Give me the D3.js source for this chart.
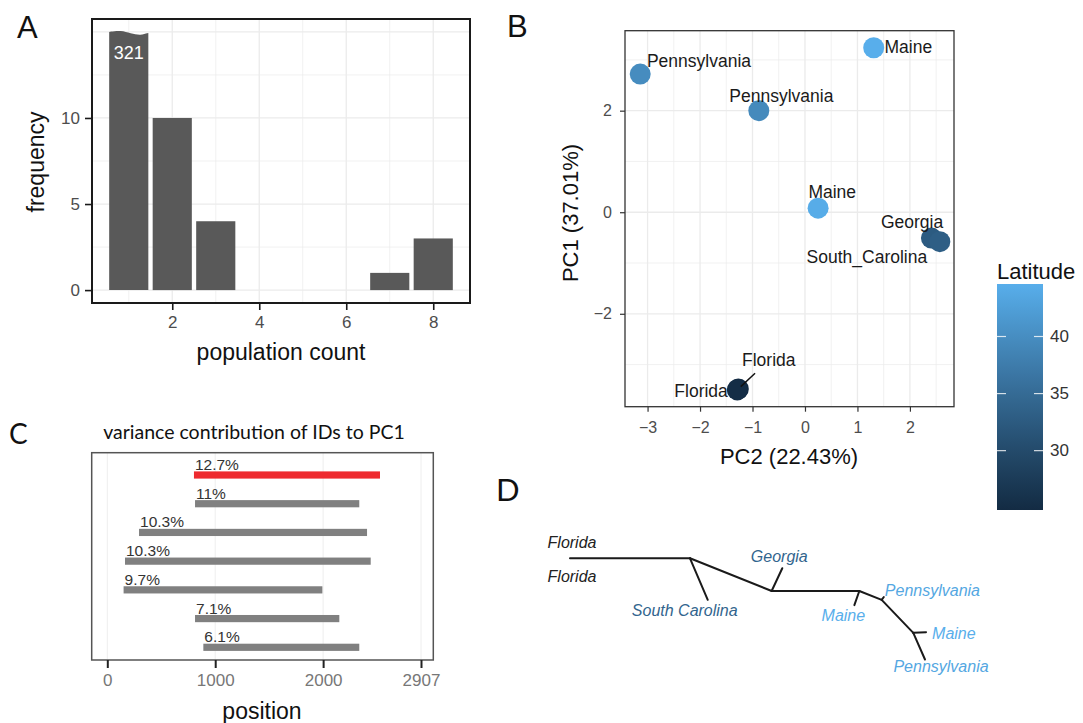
<!DOCTYPE html>
<html>
<head>
<meta charset="utf-8">
<script src="https://cdn.jsdelivr.net/npm/d3@7"></script>
<style>
  body { margin: 0; background: #fff; }
  svg { display: block; font-family: "Liberation Sans", Arial, sans-serif; }
</style>
</head>
<body>
<div id="container"></div>
<script>
/* DATA */
// A: histogram of population counts (first bar cut at 15, real value 321)
const popCount = [1, 2, 3, 7, 8];
const popFreq = [321, 10, 4, 1, 3];
const freqBreak = 15;
const freqTicks = [0, 5, 10];
const countTicks = [2, 4, 6, 8];

// B: PCA of samples, coloured by latitude
const sampleState = ["Pennsylvania", "Maine", "Pennsylvania", "Maine", "Georgia", "South_Carolina", "Florida", "Florida"];
const pc2 = [-3.14, 1.31, -0.88, 0.25, 2.41, 2.57, -1.27, -1.29];
const pc1 = [2.72, 3.24, 2.00, 0.08, -0.51, -0.58, -3.48, -3.50];
const latitude = [39.8, 44.6, 39.5, 44.3, 32.6, 33.1, 24.8, 25.2];
// repelled label positions (data units)
const labelPc2 = [-2.02, 1.97, -0.45, 0.52, 2.04, 1.18, -0.69, -1.98];
const labelPc1 = [2.98, 3.26, 2.29, 0.39, -0.20, -0.89, -2.92, -3.53];
const labelSegment = [false, false, false, false, false, false, true, false];
const pcTicks2 = [-3, -2, -1, 0, 1, 2];
const pcTicks1 = [-2, 0, 2];
const latTicks = [30, 35, 40];

// C: variance contribution of IDs to PC1
const idShare = ["12.7%", "11%", "10.3%", "10.3%", "9.7%", "7.1%", "6.1%"];
const idStart = [803, 813, 294, 164, 151, 813, 890];
const idEnd = [2527, 2335, 2407, 2441, 1993, 2150, 2335];
const positionTicks = [0, 1000, 2000, 2907];

// D: unrooted tree (branch-length units)
const treeNodes = [
  { id: "fl", x: 0.000, y: 0.000 },
  { id: "n1", x: 0.338, y: 0.000 },
  { id: "sc", x: 0.388, y: 0.117 },
  { id: "n2", x: 0.568, y: 0.092 },
  { id: "ga", x: 0.598, y: 0.028 },
  { id: "n3", x: 0.815, y: 0.092 },
  { id: "me1", x: 0.801, y: 0.132 },
  { id: "n4", x: 0.878, y: 0.117 },
  { id: "pa1", x: 0.884, y: 0.109 },
  { id: "n5", x: 0.967, y: 0.210 },
  { id: "me2", x: 1.003, y: 0.208 },
  { id: "pa2", x: 1.000, y: 0.285 }
];
const treeEdges = [
  ["fl", "n1"], ["n1", "sc"], ["n1", "n2"], ["n2", "ga"], ["n2", "n3"],
  ["n3", "me1"], ["n3", "n4"], ["n4", "pa1"], ["n4", "n5"], ["n5", "me2"], ["n5", "pa2"]
];
const tipNode = ["fl", "fl", "ga", "sc", "me1", "pa1", "me2", "pa2"];
const tipLabel = ["Florida", "Florida", "Georgia", "South Carolina", "Maine", "Pennsylvania", "Maine", "Pennsylvania"];
const tipLat = [24.0, 24.0, 34.2, 34.2, 44.6, 43.6, 44.6, 43.6];

/* LAYOUT */
const W = 1083, H = 723;
const tipOffset = [[2, -16, "middle"], [2, 18, "middle"], [-3, -12, "middle"], [-23, 11, "middle"],
  [-11, 10, "middle"], [1, -6, "start"], [6, 1, "start"], [16, 7, "middle"]];

const svg = d3.select("#container").append("svg")
  .attr("width", W).attr("height", H);

const grey92 = "#ebebeb";
const latColor = d3.scaleLinear().domain([24.8, 44.6])
  .range(["#132B43", "#58aeeb"]).interpolate(d3.interpolateLab).clamp(true);

function letter(t, x, y, fam, size) {
  svg.append("text").attr("x", x).attr("y", y).text(t)
    .style("font-family", fam).style("font-size", size + "px").attr("fill", "#111");
}

/* PANEL A */
{
  const x = d3.scaleLinear().domain([0.155, 8.845]).range([92, 470]);
  const y = d3.scaleLinear().domain([-0.75, 15.75]).range([303, 19]);
  const g = svg.append("g");

  // grid
  g.selectAll("line.minx").data([1, 3, 5, 7]).join("line")
    .attr("x1", d => x(d)).attr("x2", d => x(d)).attr("y1", 19).attr("y2", 303)
    .attr("stroke", grey92).attr("stroke-width", 0.7);
  g.selectAll("line.miny").data([2.5, 7.5, 12.5]).join("line")
    .attr("y1", d => y(d)).attr("y2", d => y(d)).attr("x1", 92).attr("x2", 470)
    .attr("stroke", grey92).attr("stroke-width", 0.7);
  g.selectAll("line.majx").data(countTicks).join("line")
    .attr("x1", d => x(d)).attr("x2", d => x(d)).attr("y1", 19).attr("y2", 303)
    .attr("stroke", grey92).attr("stroke-width", 1.3);
  g.selectAll("line.majy").data([0, 5, 10, 15]).join("line")
    .attr("y1", d => y(d)).attr("y2", d => y(d)).attr("x1", 92).attr("x2", 470)
    .attr("stroke", grey92).attr("stroke-width", 1.3);

  const bars = popCount.map((c, i) => ({ c, f: popFreq[i] }));
  const bw = x(0.9) - x(0);
  // normal bars
  g.selectAll("rect.bar").data(bars.filter(d => d.f <= freqBreak)).join("rect")
    .attr("x", d => x(d.c - 0.45)).attr("width", bw)
    .attr("y", d => y(d.f)).attr("height", d => y(0) - y(d.f))
    .attr("fill", "#595959");
  // cut bar with wavy top
  const cut = bars.filter(d => d.f > freqBreak);
  g.selectAll("path.cut").data(cut).join("path")
    .attr("d", d => {
      const x0 = x(d.c - 0.45), x1 = x0 + bw, yt = y(freqBreak), yb = y(0);
      const wave = d3.line().curve(d3.curveBasis)([
        [x0, yt], [x0 + 0.3 * bw, yt - 1.8], [x0 + 0.55 * bw, yt + 1.5],
        [x0 + 0.8 * bw, yt + 3.5], [x1, yt + 1]]);
      return wave + `L${x1},${yb}L${x0},${yb}Z`;
    })
    .attr("fill", "#595959");
  g.selectAll("text.cut").data(cut).join("text")
    .attr("x", d => x(d.c)).attr("y", y(freqBreak) + 27)
    .attr("text-anchor", "middle").attr("fill", "#fff")
    .style("font-size", "18px").text(d => d.f);

  // frame
  g.append("rect").attr("x", 92).attr("y", 19).attr("width", 378).attr("height", 284)
    .attr("fill", "none").attr("stroke", "#1a1a1a").attr("stroke-width", 2);

  const ax = g.append("g").attr("transform", "translate(0,303)")
    .call(d3.axisBottom(x).tickValues(countTicks).tickSize(7).tickPadding(6));
  const ay = g.append("g").attr("transform", "translate(92,0)")
    .call(d3.axisLeft(y).tickValues(freqTicks).tickSize(7).tickPadding(5));
  [ax, ay].forEach(a => {
    a.select(".domain").remove();
    a.selectAll("line").attr("stroke", "#1a1a1a").attr("stroke-width", 1.6);
    a.selectAll("text").attr("fill", "#4d4d4d").style("font-size", "17px")
      .style("font-family", "Liberation Sans, Arial, sans-serif");
  });

  g.append("text").attr("x", 281).attr("y", 360).attr("text-anchor", "middle")
    .style("font-size", "23px").attr("fill", "#111").text("population count");
  g.append("text").attr("transform", "translate(44,162) rotate(-90)")
    .attr("text-anchor", "middle").style("font-size", "23px").attr("fill", "#111")
    .text("frequency");

  letter("A", 17, 38, "Liberation Sans, Arial", 31);
}

/* PANEL B */
{
  const L = 625, R = 954, T = 30.7, B = 406.7;
  const x = d3.scaleLinear().domain([-3.43, 2.84]).range([L, R]);
  const y = d3.scaleLinear().domain([-3.83, 3.575]).range([B, T]);
  const g = svg.append("g");

  g.selectAll("line.minx").data([-2.5, -1.5, -0.5, 0.5, 1.5, 2.5]).join("line")
    .attr("x1", d => x(d)).attr("x2", d => x(d)).attr("y1", T).attr("y2", B)
    .attr("stroke", grey92).attr("stroke-width", 0.7);
  g.selectAll("line.miny").data([-3, -1, 1, 3]).join("line")
    .attr("y1", d => y(d)).attr("y2", d => y(d)).attr("x1", L).attr("x2", R)
    .attr("stroke", grey92).attr("stroke-width", 0.7);
  g.selectAll("line.majx").data(pcTicks2).join("line")
    .attr("x1", d => x(d)).attr("x2", d => x(d)).attr("y1", T).attr("y2", B)
    .attr("stroke", grey92).attr("stroke-width", 1.3);
  g.selectAll("line.majy").data(pcTicks1).join("line")
    .attr("y1", d => y(d)).attr("y2", d => y(d)).attr("x1", L).attr("x2", R)
    .attr("stroke", grey92).attr("stroke-width", 1.3);

  const pts = sampleState.map((s, i) => ({
    s, x: pc2[i], y: pc1[i], lat: latitude[i], lx: labelPc2[i], ly: labelPc1[i], seg: labelSegment[i]
  }));

  g.selectAll("circle").data(pts).join("circle")
    .attr("cx", d => x(d.x)).attr("cy", d => y(d.y)).attr("r", 10.5)
    .attr("fill", d => latColor(d.lat));

  // ggrepel-style segment from point toward its label
  g.selectAll("line.seg").data(pts.filter(d => d.seg)).join("line")
    .attr("x1", d => x(d.x) + 0.08 * (x(d.lx) - x(d.x))).attr("y1", d => y(d.y) + 0.08 * (y(d.ly) - y(d.y)))
    .attr("x2", d => x(d.x) + 0.55 * (x(d.lx) - x(d.x)))
    .attr("y2", d => y(d.y) + 0.55 * (y(d.ly) - y(d.y)))
    .attr("stroke", "#111").attr("stroke-width", 1.5);

  g.selectAll("text.lab").data(pts).join("text")
    .attr("x", d => x(d.lx)).attr("y", d => y(d.ly))
    .attr("text-anchor", "middle").attr("dominant-baseline", "central")
    .style("font-size", "17.5px").attr("fill", "#1a1a1a").text(d => d.s);

  g.append("rect").attr("x", L).attr("y", T).attr("width", R - L).attr("height", B - T)
    .attr("fill", "none").attr("stroke", "#333").attr("stroke-width", 1.3);

  const fmt = d => d < 0 ? "\u2212" + Math.abs(d) : String(d);
  const ax = g.append("g").attr("transform", `translate(0,${B})`)
    .call(d3.axisBottom(x).tickValues(pcTicks2).tickFormat(fmt).tickSize(5).tickPadding(10));
  const ay = g.append("g").attr("transform", `translate(${L},0)`)
    .call(d3.axisLeft(y).tickValues(pcTicks1).tickFormat(fmt).tickSize(5).tickPadding(8));
  [ax, ay].forEach(a => {
    a.select(".domain").remove();
    a.selectAll("line").attr("stroke", "#333").attr("stroke-width", 1.2);
    a.selectAll("text").attr("fill", "#4d4d4d").style("font-size", "16px")
      .style("font-family", "Liberation Sans, Arial, sans-serif");
  });

  g.append("text").attr("x", 789).attr("y", 464).attr("text-anchor", "middle")
    .style("font-size", "22px").attr("fill", "#111").text("PC2 (22.43%)");
  g.append("text").attr("transform", "translate(578,213) rotate(-90)")
    .attr("text-anchor", "middle").style("font-size", "22px").attr("fill", "#111")
    .text("PC1 (37.01%)");

  // colour bar legend
  const ly = d3.scaleLinear().domain(latColor.domain()).range([510, 284]);
  const grad = svg.append("defs").append("linearGradient").attr("id", "latgrad")
    .attr("x1", 0).attr("x2", 0).attr("y1", 1).attr("y2", 0);
  grad.selectAll("stop").data(d3.range(0, 1.001, 0.1)).join("stop")
    .attr("offset", d => d)
    .attr("stop-color", d => latColor(latColor.domain()[0] + d * (latColor.domain()[1] - latColor.domain()[0])));
  g.append("rect").attr("x", 997).attr("y", 284).attr("width", 46).attr("height", 226)
    .attr("fill", "url(#latgrad)");
  g.selectAll("line.lt").data(latTicks.flatMap(t => [[t, 997], [t, 1034]])).join("line")
    .attr("x1", d => d[1]).attr("x2", d => d[1] + 9)
    .attr("y1", d => ly(d[0])).attr("y2", d => ly(d[0]))
    .attr("stroke", "#fff").attr("stroke-width", 1.2).attr("opacity", 0.8);
  g.selectAll("text.lt").data(latTicks).join("text")
    .attr("x", 1050).attr("y", d => ly(d)).attr("dominant-baseline", "central")
    .style("font-size", "17px").attr("fill", "#333").text(d => d);
  g.append("text").attr("x", 997).attr("y", 279).style("font-size", "22px")
    .attr("fill", "#111").text("Latitude");

  letter("B", 507, 37, "Liberation Sans, Arial", 31);
}

/* PANEL C */
{
  const L = 91.7, R = 433.3, T = 452.7, B = 660;
  const x = d3.scaleLinear().domain([0, 2907]).range([107.3, 421]);
  const rows = d3.scalePoint().domain(d3.range(idShare.length)).range([475, 647.3]);
  const g = svg.append("g");

  g.selectAll("line.grid").data(positionTicks).join("line")
    .attr("x1", d => x(d)).attr("x2", d => x(d)).attr("y1", T).attr("y2", B)
    .attr("stroke", "#eeeeee").attr("stroke-width", 1);

  const ids = idShare.map((s, i) => ({ i, s, a: idStart[i], b: idEnd[i] }));
  g.selectAll("rect.id").data(ids).join("rect")
    .attr("x", d => x(d.a)).attr("width", d => x(d.b) - x(d.a))
    .attr("y", d => rows(d.i) - 3.6).attr("height", 7.2)
    .attr("fill", d => d.i === 0 ? "#ee2a2f" : "#808080");
  g.selectAll("text.id").data(ids).join("text")
    .attr("x", d => x(d.a) + 1).attr("y", d => rows(d.i) - 5)
    .style("font-size", "15.5px").attr("fill", "#333").text(d => d.s);

  g.append("rect").attr("x", L).attr("y", T).attr("width", R - L).attr("height", B - T)
    .attr("fill", "none").attr("stroke", "#555").attr("stroke-width", 1.5);

  const ax = g.append("g").attr("transform", `translate(0,${B})`)
    .call(d3.axisBottom(x).tickValues(positionTicks).tickFormat(d3.format("d")).tickSize(8).tickPadding(6));
  ax.select(".domain").remove();
  ax.selectAll("line").attr("stroke", "#222").attr("stroke-width", 2);
  ax.selectAll("text").attr("fill", "#777").style("font-size", "17px")
    .style("font-family", "Liberation Sans, Arial, sans-serif");

  g.append("text").attr("x", 262).attr("y", 719).attr("text-anchor", "middle")
    .style("font-size", "23px").attr("fill", "#111").text("position");
  g.append("text").attr("x", 254).attr("y", 439).attr("text-anchor", "middle")
    .style("font-family", "Lato, sans-serif").style("font-size", "19.5px").attr("fill", "#111")
    .text("variance contribution of IDs to PC1");

  letter("C", 9, 444, "Lato, sans-serif", 28);
}

/* PANEL D */
{
  const x = d3.scaleLinear().domain([0, 1]).range([570, 925]);
  const y = d3.scaleLinear().domain([0, 1]).range([558.3, 913.3]);
  const byId = new Map(treeNodes.map(n => [n.id, n]));
  const g = svg.append("g");

  g.selectAll("line.edge").data(treeEdges).join("line")
    .attr("x1", d => x(byId.get(d[0]).x)).attr("y1", d => y(byId.get(d[0]).y))
    .attr("x2", d => x(byId.get(d[1]).x)).attr("y2", d => y(byId.get(d[1]).y))
    .attr("stroke", "#1a1a1a").attr("stroke-width", 2).attr("stroke-linecap", "round");

  const tips = tipLabel.map((t, i) => ({ t, n: byId.get(tipNode[i]), lat: tipLat[i], o: tipOffset[i] }));
  g.selectAll("text.tip").data(tips).join("text")
    .attr("x", d => x(d.n.x) + d.o[0]).attr("y", d => y(d.n.y) + d.o[1])
    .attr("text-anchor", d => d.o[2]).attr("dominant-baseline", "central")
    .style("font-size", "16px").style("font-style", "italic")
    .attr("fill", d => d.lat < 26 ? "#222" : latColor(d.lat)).text(d => d.t);

  letter("D", 496, 501, "Lato, sans-serif", 31);
}
</script>
</body>
</html>
